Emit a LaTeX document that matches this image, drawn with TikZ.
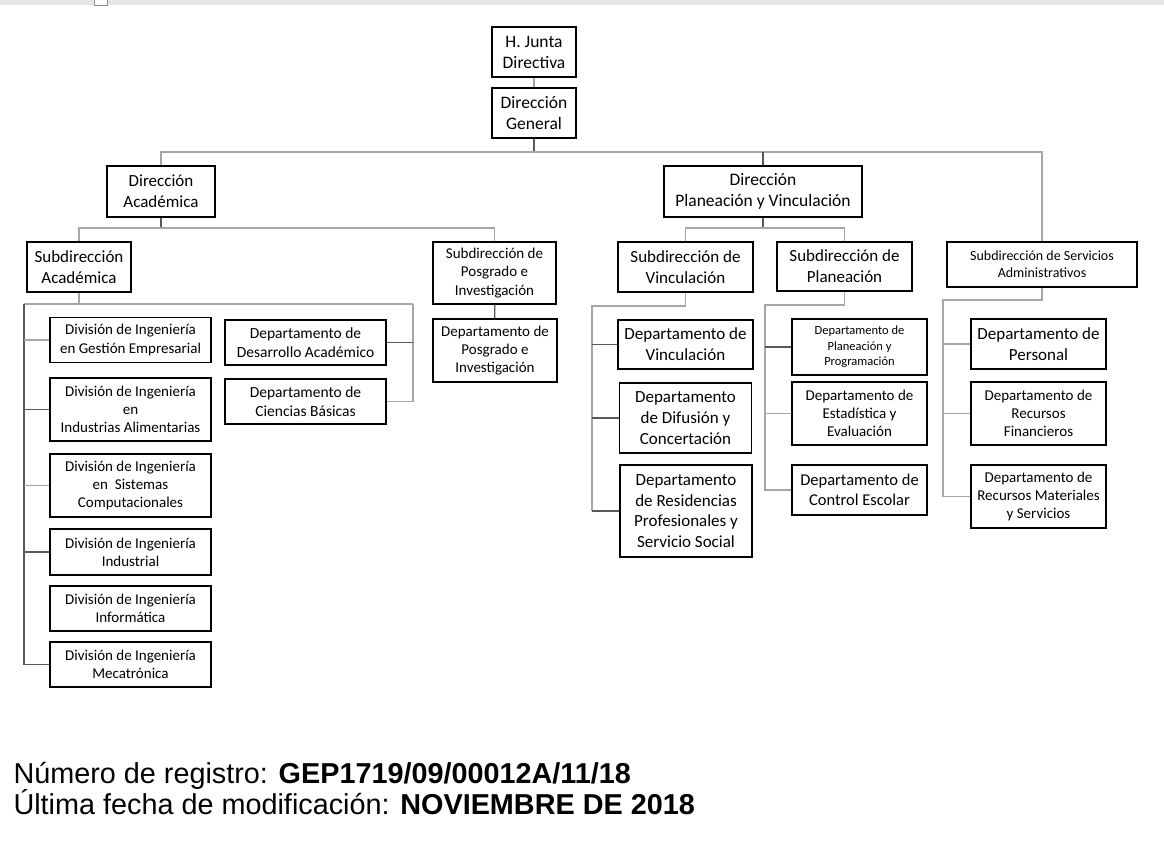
\documentclass[tikz,border=0pt]{standalone}
\usepackage{fontspec}
\setmainfont{Carlito}
\newfontfamily\arialfont{Liberation Sans}

\begin{document}
\begin{tikzpicture}[x=1pt,y=-1pt,
    caja/.style={draw,line width=1.1pt,align=center,inner sep=0pt},
    letraA/.style={font=\fontsize{17.5}{21}\selectfont},
    letraB/.style={font=\fontsize{17}{20.7}\selectfont},
    letraC/.style={font=\fontsize{15}{18.2}\selectfont},
    letraD/.style={font=\fontsize{14}{17.3}\selectfont},
    letraE/.style={font=\fontsize{12.5}{15.3}\selectfont},
    linea/.style={draw=black!35,line width=1.2pt},
    lineaosc/.style={draw=black!65,line width=1.2pt}]
    \useasboundingbox (0,0) rectangle (1164,846);

    % Barra gris de la ventana.
    \fill[black!10] (0,0) rectangle (1164,5);
    \draw[black!45,fill=white,line width=0.8pt] (94,-2) rectangle (107,5);

    % Direcciones.
    \node[caja,letraA,minimum width=84,minimum height=50] (junta) at (534,52) {H. Junta\\Directiva};
    \node[caja,letraA,minimum width=84,minimum height=50] (dgen) at (534,113) {Dirección\\General};
    \node[caja,letraB,minimum width=108,minimum height=51] (dacad) at (161,191.5) {Dirección\\Académica};
    \node[caja,letraA,minimum width=198,minimum height=51] (dplan) at (763,191.5) {Dirección\\Planeación y Vinculación};

    % Subdirecciones.
    \node[caja,letraB,minimum width=104,minimum height=50] (sacad) at (79,267) {Subdirección\\Académica};
    \node[caja,letraC,minimum width=123,minimum height=62] (spos) at (494.5,273) {Subdirección de\\Posgrado e\\Investigación};
    \node[caja,letraB,minimum width=135,minimum height=50] (svinc) at (685.5,267) {Subdirección de\\Vinculación};
    \node[caja,letraB,minimum width=135,minimum height=49] (splan) at (844.5,266.5) {Subdirección de\\Planeación};
    \node[caja,letraD,minimum width=190,minimum height=45] (sserv) at (1042,264.5) {Subdirección de Servicios\\Administrativos};

    % Divisiones de ingeniería.
    \node[caja,letraC,minimum width=161,minimum height=45] (div1) at (130.5,340) {División de Ingeniería\\en Gestión Empresarial};
    \node[caja,letraC,minimum width=161,minimum height=63] (div2) at (130.5,409.5) {División de Ingeniería\\en\\Industrias Alimentarias};
    \node[caja,letraC,minimum width=161,minimum height=63] (div3) at (130.5,485.5) {División de Ingeniería\\en~~Sistemas\\Computacionales};
    \node[caja,letraC,minimum width=161,minimum height=46] (div4) at (130.5,552) {División de Ingeniería\\Industrial};
    \node[caja,letraC,minimum width=161,minimum height=45] (div5) at (130.5,608.5) {División de Ingeniería\\Informática};
    \node[caja,letraC,minimum width=161,minimum height=45] (div6) at (130.5,664.5) {División de Ingeniería\\Mecatrónica};

    % Departamentos.
    \node[caja,letraC,font=\fontsize{15.5}{19}\selectfont,minimum width=161,minimum height=45] (ddes) at (305.5,342.5) {Departamento de\\Desarrollo Académico};
    \node[caja,letraC,font=\fontsize{15.5}{19}\selectfont,minimum width=161,minimum height=45] (dcb) at (305.5,401.5) {Departamento de\\Ciencias Básicas};
    \node[caja,letraC,minimum width=124,minimum height=63] (dpos) at (495,350.5) {Departamento de\\Posgrado e\\Investigación};
    \node[caja,letraB,minimum width=135,minimum height=49] (dvinc) at (685.5,344.5) {Departamento de\\Vinculación};
    \node[caja,letraB,minimum width=132,minimum height=70] (ddif) at (685.5,418) {Departamento\\de Difusión y\\Concertación};
    \node[caja,letraB,minimum width=132,minimum height=92] (dres) at (686,511) {Departamento\\de Residencias\\Profesionales y\\Servicio Social};
    \node[caja,letraE,minimum width=135,minimum height=56] (dpp) at (859.5,347) {Departamento de\\Planeación y\\Programación};
    \node[caja,letraC,minimum width=135,minimum height=63] (dest) at (859.5,413.5) {Departamento de\\Estadística y\\Evaluación};
    \node[caja,font=\fontsize{16.5}{20}\selectfont,minimum width=135,minimum height=50] (dce) at (859.5,490) {Departamento de\\Control Escolar};
    \node[caja,letraB,minimum width=135,minimum height=50] (dper) at (1038.5,344) {Departamento de\\Personal};
    \node[caja,letraC,minimum width=135,minimum height=63] (drf) at (1038.5,413.5) {Departamento de\\Recursos\\Financieros};
    \node[caja,letraC,minimum width=135,minimum height=63] (drm) at (1038.5,496.5) {Departamento de\\Recursos Materiales\\y Servicios};

    % Niveles de las lineas horizontales.
    \coordinate (nivelG) at (0,152);
    \coordinate (nivelD) at (0,228);
    \coordinate (ejeA) at (24,304);
    \coordinate (ejeB) at (413,304);
    \coordinate (ejeV) at (592,306);
    \coordinate (ejeP) at (765,305);
    \coordinate (ejeS) at (943,300);

    % Desde la Direccion General.
    \draw[linea] (junta) -- (dgen);
    \draw[lineaosc] (dgen.south) -- (dgen.south |- nivelG);
    \draw[linea] (dacad.north) -- (dacad.north |- nivelG) -- (sserv.north |- nivelG) -- (sserv.north);
    \draw[lineaosc] (dplan.north) -- (dplan.north |- nivelG);

    % Direccion Academica.
    \draw[lineaosc] (dacad.south) -- (dacad.south |- nivelD);
    \draw[linea] (sacad.north) -- (sacad.north |- nivelD) -- (spos.north |- nivelD) -- (spos.north);
    \draw[lineaosc] (spos) -- (dpos);
    \draw[linea] (sacad.south) -- (sacad.south |- ejeA);
    \draw[linea] (ejeA) -- (ejeB);
    \draw[lineaosc] (ejeA) -- (ejeA |- div6.west) -- (div6.west);
    \foreach \n/\c in {div1/linea,div2/lineaosc,div3/linea,div4/lineaosc}{
        \draw[\c] (ejeA |- \n.west) -- (\n.west);
    }
    \draw[linea] (ejeB) -- (ejeB |- dcb.east) -- (dcb.east);
    \draw[lineaosc] (ddes.east) -- (ejeB |- ddes.east);

    % Direccion de Planeacion y Vinculacion.
    \draw[lineaosc] (dplan.south) -- (dplan.south |- nivelD);
    \draw[linea] (svinc.north) -- (svinc.north |- nivelD) -- (splan.north |- nivelD) -- (splan.north);
    \draw[linea] (svinc.south) -- (svinc.south |- ejeV) -- (ejeV) -- (ejeV |- dres.west);
    \foreach \n in {dvinc,ddif,dres}{
        \draw[lineaosc] (ejeV |- \n.west) -- (\n.west);
    }
    \draw[linea] (splan.south) -- (splan.south |- ejeP) -- (ejeP) -- (ejeP |- dce.west) -- (dce.west);
    \draw[lineaosc] (ejeP |- dpp.west) -- (dpp.west);
    \draw[linea] (ejeP |- dest.west) -- (dest.west);

    % Servicios Administrativos.
    \draw[linea] (sserv.south) -- (sserv.south |- ejeS) -- (ejeS) -- (ejeS |- drm.west) -- (drm.west);
    \foreach \n in {dper,drf}{
        \draw[linea] (ejeS |- \n.west) -- (\n.west);
    }

    % Datos de registro.
    \node[anchor=base west,font=\arialfont\fontsize{28.8}{31}\selectfont] (registro) at (10,783)
        {Número de registro: \textbf{GEP1719/09/00012A/11/18}};
    \node[anchor=base west,font=\arialfont\fontsize{28.8}{31}\selectfont] (fecha) at (10,814)
        {Última fecha de modificación: \textbf{NOVIEMBRE DE 2018}};
\end{tikzpicture}
\end{document}
